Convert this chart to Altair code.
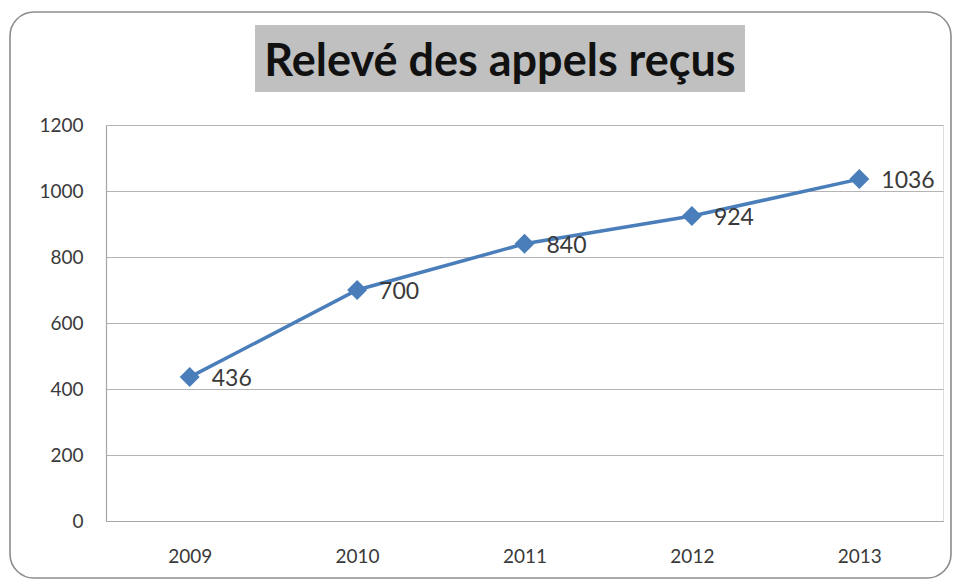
import altair as alt
import pandas as pd

# Calls received per year
years = ["2009", "2010", "2011", "2012", "2013"]
calls = [436, 700, 840, 924, 1036]

title_text = "Relevé des appels reçus"
y_ticks = [0, 200, 400, 600, 800, 1000, 1200]

df = pd.DataFrame({"annee": years, "appels": calls})

FONT = "Lato"
TEXT_GREY = "#3a3a3a"
LINE_BLUE = "#4a7ebb"

W, H = 837, 396

x_enc = alt.X(
    "annee:O",
    sort=years,
    scale=alt.Scale(type="point", padding=0.5),
    axis=alt.Axis(
        title=None, labelAngle=0, labelFontSize=19, labelColor=TEXT_GREY,
        labelFont=FONT, labelPadding=26, ticks=False, domain=True,
        domainColor="#a6a6a6", domainWidth=1.2, grid=False,
    ),
)
y_enc = alt.Y(
    "appels:Q",
    scale=alt.Scale(domain=[0, 1200], nice=False),
    axis=alt.Axis(
        title=None, values=y_ticks, format="d", labelFontSize=19,
        labelColor=TEXT_GREY, labelFont=FONT, labelPadding=23, ticks=False,
        domain=True, domainColor="#a6a6a6", domainWidth=1.2, grid=True,
        gridColor="#b4b4b4", gridWidth=1.1,
    ),
)

base = alt.Chart(df)

line = base.mark_line(color=LINE_BLUE, strokeWidth=3.5).encode(x=x_enc, y=y_enc)
points = base.mark_point(
    shape="diamond", filled=True, size=400, color=LINE_BLUE, opacity=1
).encode(x="annee:O", y="appels:Q")
labels = base.mark_text(
    align="left", baseline="middle", dx=22, dy=2, fontSize=23,
    font=FONT, color=TEXT_GREY,
).encode(x="annee:O", y="appels:Q", text="appels:Q")

# Outer chart frame with rounded corners
frame = alt.Chart(pd.DataFrame({"k": [0]})).mark_rect(
    fill=None, stroke="#8c8c8c", strokeWidth=1.6, cornerRadius=24
).encode(
    x=alt.value(-96), x2=alt.value(845),
    y=alt.value(-113), y2=alt.value(453),
)

# Grey banner behind the title
banner = alt.Chart(pd.DataFrame({"k": [0]})).mark_rect(
    fill="#c0c0c0"
).encode(
    x=alt.value(149), x2=alt.value(639),
    y=alt.value(-100), y2=alt.value(-33),
)
banner_text = alt.Chart(pd.DataFrame({"t": [title_text]})).mark_text(
    font=FONT, fontWeight="bold", fontSize=45, color="#111111",
    align="center", baseline="middle",
).encode(x=alt.value(394), y=alt.value(-63), text="t:N")

chart = alt.layer(frame, banner, banner_text, line, points, labels).properties(
    width=W, height=H,
    autosize=alt.AutoSizeParams(type="none"),
    padding={"left": 106, "top": 125, "right": 15, "bottom": 62},
).configure_view(stroke=None).configure(background="white")

chart.save("out.html", embed_options={"renderer": "svg", "actions": False})
